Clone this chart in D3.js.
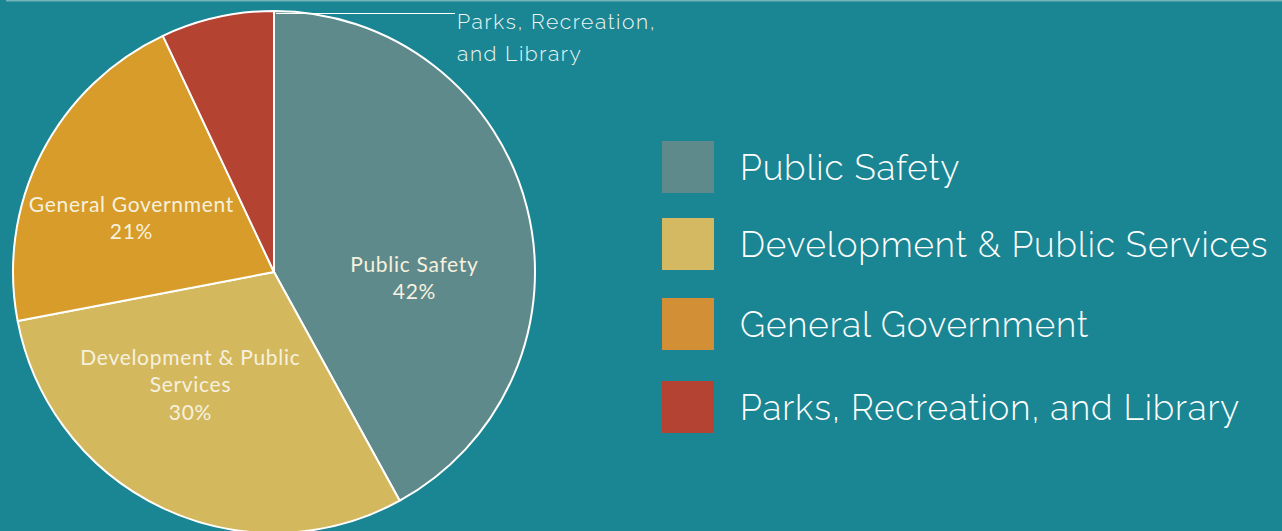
<!DOCTYPE html>
<html>
<head>
<meta charset="utf-8">
<script src="https://cdn.jsdelivr.net/npm/d3@7"></script>
<style>
  html, body { margin: 0; padding: 0; background: #1b8693; overflow: hidden; }
</style>
</head>
<body>
<div id="chart"></div>
<script>
// Data
const categories = ["Public Safety", "Development & Public Services", "General Government", "Parks, Recreation, and Library"];
const shares = [42, 30, 21, 7];
const sliceColors = ["#5f8a8b", "#d4b85e", "#d89c2a", "#b54332"];
const legendColors = ["#5f8a8b", "#d4b862", "#d38f35", "#b54334"];
const sliceLabels = [["Public Safety", "42%"], ["Development & Public", "Services", "30%"], ["General Government", "21%"], null];
const calloutLabel = ["Parks, Recreation,", "and Library"];

window.onload = function () {
  const W = 1282, H = 531;
  const svg = d3.select("#chart").append("svg")
    .attr("width", W).attr("height", H)
    .style("display", "block");

  svg.append("rect").attr("width", W).attr("height", H).attr("fill", "#1b8693");
  svg.append("rect").attr("x", 6).attr("width", W - 6).attr("height", 1.5).attr("fill", "#74b3b8");

  const cx = 274, cy = 272, r = 261;
  const g = svg.append("g").attr("transform", `translate(${cx},${cy})`);

  const data = categories.map((c, i) => ({ name: c, value: shares[i], i }));
  const pie = d3.pie().value(d => d.value).sort(null);
  const arc = d3.arc().innerRadius(0).outerRadius(r);
  const arcs = pie(data);

  g.selectAll("path.slice").data(arcs).enter().append("path")
    .attr("class", "slice")
    .attr("d", arc)
    .attr("fill", d => sliceColors[d.data.i])
    .attr("stroke", "#ffffff")
    .attr("stroke-width", 2)
    .attr("stroke-linejoin", "round");

  // label anchors (offset from pie centre)
  const spots = [[140, 6], [-84, 113], [-143, -54]];
  const lh = 27.5;
  arcs.forEach((d) => {
    const lines = sliceLabels[d.data.i];
    if (!lines) return;
    const [sx, sy] = spots[d.data.i];
    const t = g.append("text")
      .attr("text-anchor", "middle")
      .style("font-family", "Lato, 'Open Sans', sans-serif")
      .style("font-size", "21px")
      .style("letter-spacing", "0.7px")
      .style("fill", "#f6f1de");
    const top = sy - (lines.length - 1) * lh / 2;
    lines.forEach((ln, j) => {
      t.append("tspan").attr("x", sx + 0.4).attr("y", top + j * lh).attr("dy", "0.35em").text(ln);
    });
  });

  // callout for the small slice
  const topY = cy - r + 2.5;
  svg.append("line")
    .attr("x1", cx + 2).attr("y1", topY)
    .attr("x2", 455).attr("y2", topY)
    .attr("stroke", "#ffffff").attr("stroke-width", 1.2);
  const ct = svg.append("text")
    .style("font-family", "Raleway, Lato, sans-serif")
    .style("font-weight", 300)
    .style("font-size", "21px")
    .style("letter-spacing", "1.6px")
    .style("fill", "#eef6f6");
  calloutLabel.forEach((ln, j) => {
    ct.append("tspan").attr("x", 457).attr("y", 29 + j * 32).text(ln);
  });

  // legend
  const legend = svg.append("g").attr("transform", "translate(662,141)");
  const rows = legend.selectAll("g").data(categories).enter().append("g")
    .attr("transform", (d, i) => `translate(0,${[0, 77, 157, 240][i]})`);
  rows.append("rect")
    .attr("width", 52).attr("height", 52)
    .attr("fill", (d, i) => legendColors[i]);
  rows.append("text")
    .attr("x", 78).attr("y", 26).attr("dy", "0.36em")
    .style("font-family", "Raleway, Lato, sans-serif")
    .style("font-weight", 300)
    .style("font-size", "35px")
    .style("letter-spacing", "0.9px")
    .style("fill", "#ffffff")
    .text(d => d);
};
</script>
</body>
</html>
